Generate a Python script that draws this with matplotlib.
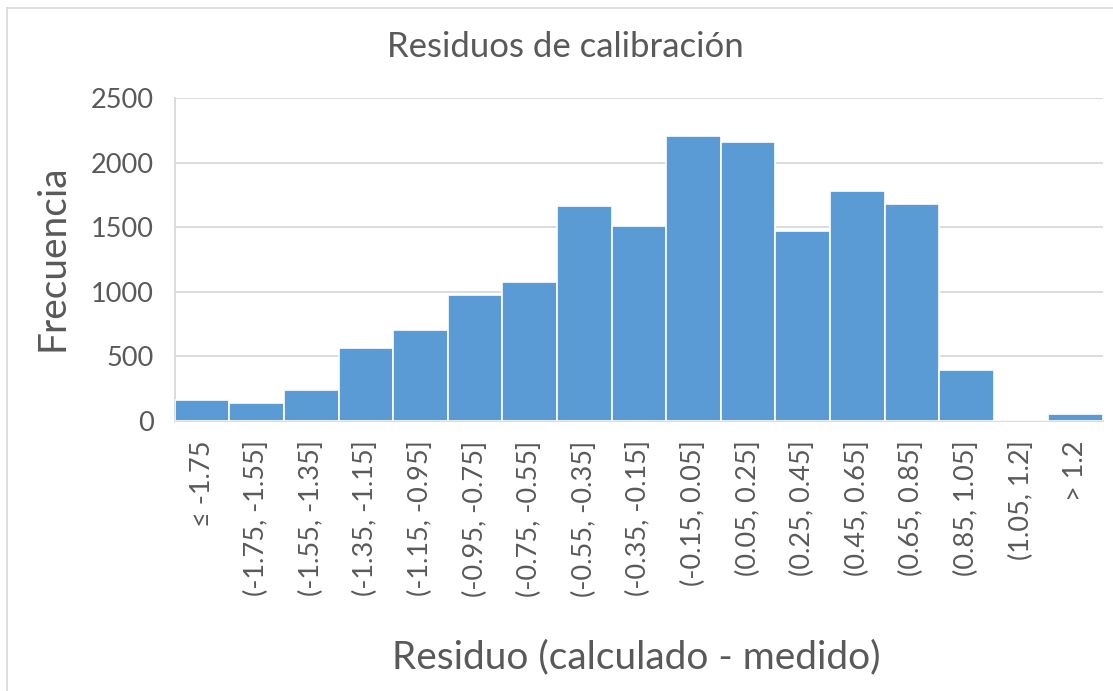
"""
Histogram of calibration residuals (calculated - measured), Excel-style bins.
"""

import matplotlib.pyplot as plt
from matplotlib.lines import Line2D

BIN_LABELS = [
    "≤ -1.75",
    "(-1.75, -1.55]", "(-1.55, -1.35]", "(-1.35, -1.15]", "(-1.15, -0.95]",
    "(-0.95, -0.75]", "(-0.75, -0.55]", "(-0.55, -0.35]", "(-0.35, -0.15]",
    "(-0.15, 0.05]", "(0.05, 0.25]", "(0.25, 0.45]", "(0.45, 0.65]",
    "(0.65, 0.85]", "(0.85, 1.05]", "(1.05, 1.2]",
    "> 1.2",
]
COUNTS = [165, 137, 235, 566, 706, 972, 1073, 1667, 1510,
          2205, 2159, 1471, 1779, 1678, 396, 0, 49]
Y_TICKS = [0, 500, 1000, 1500, 2000, 2500]

BAR_COLOR = "#5B9BD5"
TEXT_COLOR = "#595959"
GRID_COLOR = "#D9D9D9"

plt.rcParams["font.family"] = ["Lato", "DejaVu Sans"]

fig = plt.figure(figsize=(11.13, 6.91), dpi=100)
ax = fig.add_axes([0.157, 0.391, 0.834, 0.467])

x = range(len(COUNTS))
ax.bar(x, COUNTS, width=1.0, color=BAR_COLOR, edgecolor="white", linewidth=1.2, zorder=3)

ax.set_xlim(-0.5, len(COUNTS) - 0.5)
ax.set_ylim(0, 2500)
ax.set_yticks(Y_TICKS)
ax.set_xticks(list(x))
ax.set_xticklabels(BIN_LABELS, rotation=90, va="top", ha="center")

ax.tick_params(axis="both", length=0, labelsize=19.5, colors=TEXT_COLOR)
ax.tick_params(axis="x", pad=14)
ax.tick_params(axis="y", pad=15)

ax.yaxis.grid(True, color=GRID_COLOR, linewidth=1.3, zorder=0)
for side in ["top", "right"]:
    ax.spines[side].set_visible(False)
for side in ["left", "bottom"]:
    ax.spines[side].set_color(GRID_COLOR)
    ax.spines[side].set_linewidth(1.3)

fig.text(0.508, 0.932, "Residuos de calibración", ha="center", va="center",
         fontsize=25, color=TEXT_COLOR)
fig.text(0.047, 0.627, "Frecuencia", ha="center", va="center", rotation=90,
         fontsize=28, color=TEXT_COLOR)
fig.text(0.572, 0.049, "Residuo (calculado - medido)", ha="center", va="center",
         fontsize=28, color=TEXT_COLOR)

# chart-area border (left and top edges)
fig.add_artist(Line2D([7 / 1113, 7 / 1113], [0, 1 - 8 / 691],
                      transform=fig.transFigure, color=GRID_COLOR, linewidth=1.2))
fig.add_artist(Line2D([7 / 1113, 1], [1 - 8 / 691, 1 - 8 / 691],
                      transform=fig.transFigure, color=GRID_COLOR, linewidth=1.2))

fig.savefig("out.png", dpi=100)
